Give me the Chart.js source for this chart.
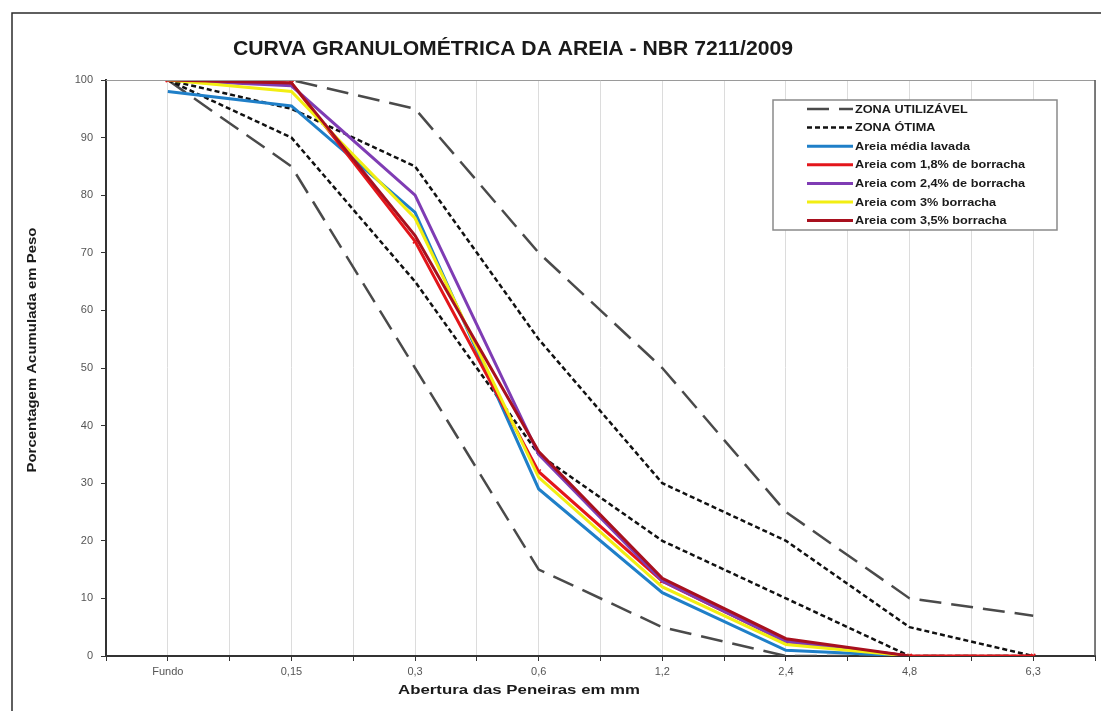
<!DOCTYPE html>
<html>
<head>
<meta charset="utf-8">
<script src="https://cdn.jsdelivr.net/npm/chart.js@4"></script>
<style>
    html, body { margin: 0; padding: 0; background: #fff; }
    #myChart { display: block; }
</style>
</head>
<body>
<canvas id="myChart" width="1101" height="711"></canvas>
<script>
// =============================================
// Curva granulométrica - NBR 7211/2009
// =============================================

const chartTitle = "CURVA GRANULOMÉTRICA DA AREIA - NBR 7211/2009";
const xTitle = "Abertura das Peneiras em mm";
const yTitle = "Porcentagem Acumulada em Peso";

// peneiras (mm)
const categories = ["Fundo", "0,15", "0,3", "0,6", "1,2", "2,4", "4,8", "6,3"];

// limites da norma
const utilInferior = [100, 85, 50, 15, 5, 0, 0, 0];
const utilSuperior = [100, 100, 95, 70, 50, 25, 10, 7];
const otimaInferior = [100, 90, 65, 35, 20, 10, 0, 0];
const otimaSuperior = [100, 95, 85, 55, 30, 20, 5, 0];

// ensaios
const areiaLavada = [98, 95.5, 77, 29, 11, 1, 0, null];
const areia18 = [100, 99.5, 72, 32, 13, 2.5, 0, 0];
const areia24 = [100, 99, 80, 35, 13, 2.5, 0, null];
const areia3 = [100, 98, 76, 31, 12, 2, 0, null];
const areia35 = [100, 99.5, 73, 35.5, 13.5, 3, 0, null];

const yTicks = [0, 10, 20, 30, 40, 50, 60, 70, 80, 90, 100];

// each sieve sits on an odd slot, the even slots are the minor gridlines
function toPoints(values) {
    return values.map((v, i) => ({ x: 2 * i + 1, y: v }));
}

const FONT = "'Liberation Sans', Arial, sans-serif";
const LONG_DASH = [22, 10];
const SHORT_DASH = [5, 3];

function limitSet(label, values, color, dash) {
    return {
        label: label,
        data: toPoints(values),
        borderColor: color,
        borderWidth: 2.5,
        borderDash: dash,
        pointRadius: 0,
        fill: false,
        tension: 0,
    };
}

function sampleSet(label, values, color, marker) {
    return {
        label: label,
        data: toPoints(values),
        borderColor: color,
        backgroundColor: color,
        borderWidth: 3,
        pointRadius: marker ? 3 : 0,
        pointStyle: "crossRot",
        pointBorderWidth: 1.5,
        fill: false,
        tension: 0,
    };
}

const datasets = [
    limitSet("ZONA UTILIZÁVEL", utilInferior, "#4a4a4a", LONG_DASH),
    limitSet("ZONA UTILIZÁVEL", utilSuperior, "#4a4a4a", LONG_DASH),
    limitSet("ZONA ÓTIMA", otimaInferior, "#111111", SHORT_DASH),
    limitSet("ZONA ÓTIMA", otimaSuperior, "#111111", SHORT_DASH),
    sampleSet("Areia média lavada", areiaLavada, "#1f7fc8"),
    sampleSet("Areia com 1,8% de borracha", areia18, "#e3161b", true),
    sampleSet("Areia com 2,4% de borracha", areia24, "#7f3cb4"),
    sampleSet("Areia com 3% borracha", areia3, "#f2ee12"),
    sampleSet("Areia com 3,5% borracha", areia35, "#a8101e"),
];
// excel style: later series are painted on top
datasets.forEach((ds, i) => (ds.order = datasets.length - i));

function drawScaledText(ctx, text, cx, cy, width, font, rotate) {
    ctx.save();
    ctx.font = font;
    const w = ctx.measureText(text).width;
    ctx.translate(cx, cy);
    if (rotate) ctx.rotate(-Math.PI / 2);
    ctx.scale(width / w, 1);
    ctx.textAlign = "center";
    ctx.textBaseline = "middle";
    ctx.fillStyle = "#1a1a1a";
    ctx.fillText(text, 0, 0);
    ctx.restore();
}

const framePlugin = {
    id: "frame",
    beforeDraw(chart) {
        const ctx = chart.ctx;
        ctx.save();
        ctx.fillStyle = "#fff";
        ctx.fillRect(0, 0, chart.width, chart.height);
        ctx.restore();
    },
    afterDraw(chart) {
        const ctx = chart.ctx;
        const area = chart.chartArea;
        ctx.save();

        // outer frame
        ctx.strokeStyle = "#2b2b2b";
        ctx.lineWidth = 1.5;
        ctx.beginPath();
        ctx.moveTo(12, 711);
        ctx.lineTo(12, 13);
        ctx.lineTo(1101, 13);
        ctx.stroke();

        // plot border top / right
        ctx.lineWidth = 1;
        ctx.strokeStyle = "#9a9a9a";
        ctx.beginPath();
        ctx.moveTo(area.left, area.top + 0.5);
        ctx.lineTo(area.right, area.top + 0.5);
        ctx.stroke();
        ctx.strokeStyle = "#555";
        ctx.lineWidth = 1.5;
        ctx.beginPath();
        ctx.moveTo(area.right, area.top);
        ctx.lineTo(area.right, area.bottom);
        ctx.stroke();

        // titles
        drawScaledText(ctx, chartTitle, 513, 49, 560, "bold 21px " + FONT);
        drawScaledText(ctx, xTitle, 519, 690, 242, "bold 13px " + FONT);
        drawScaledText(ctx, yTitle, 32, 350, 245, "bold 13px " + FONT, true);

        // legend box
        const box = { x: 773, y: 100, w: 284, h: 130 };
        ctx.fillStyle = "#fff";
        ctx.fillRect(box.x, box.y, box.w, box.h);
        ctx.strokeStyle = "#8a8a8a";
        ctx.lineWidth = 1.5;
        ctx.strokeRect(box.x, box.y, box.w, box.h);

        const seen = new Set();
        const entries = [];
        chart.data.datasets.forEach((ds) => {
            if (seen.has(ds.label)) return;
            seen.add(ds.label);
            entries.push(ds);
        });

        ctx.font = "bold 11px " + FONT;
        const refW = ctx.measureText("Areia com 1,8% de borracha").width;
        const sx = 170 / refW;
        entries.forEach((ds, i) => {
            const y = 109 + i * 18.6;
            ctx.save();
            ctx.strokeStyle = ds.borderColor;
            ctx.lineWidth = ds.borderWidth;
            ctx.setLineDash(ds.borderDash || []);
            ctx.beginPath();
            ctx.moveTo(807, y);
            ctx.lineTo(853, y);
            ctx.stroke();
            ctx.restore();

            ctx.save();
            ctx.translate(855, y);
            ctx.scale(sx, 1);
            ctx.fillStyle = "#1a1a1a";
            ctx.textAlign = "left";
            ctx.textBaseline = "middle";
            ctx.fillText(ds.label, 0, 0.5);
            ctx.restore();
        });

        ctx.restore();
    },
};

const config = {
    type: "line",
    data: { datasets: datasets },
    options: {
        responsive: false,
        animation: false,
        devicePixelRatio: 1,
        layout: { padding: { left: 0, top: 80, right: 6, bottom: 0 } },
        plugins: {
            legend: { display: false },
            title: { display: false },
            tooltip: { enabled: false },
        },
        scales: {
            x: {
                type: "linear",
                min: 0,
                max: 2 * categories.length,
                afterFit: (scale) => (scale.height = 55),
                afterBuildTicks: (scale) => {
                    const t = [];
                    for (let v = 0; v <= 2 * categories.length; v++) t.push({ value: v });
                    scale.ticks = t;
                },
                ticks: {
                    autoSkip: false,
                    maxRotation: 0,
                    padding: 4,
                    color: "#555",
                    font: { family: FONT, size: 11 },
                    callback: (v) => (v % 2 === 1 ? categories[(v - 1) / 2] : ""),
                },
                grid: {
                    color: "#dcdcdc",
                    lineWidth: 1,
                    tickColor: "#333",
                    tickLength: 5,
                },
                border: { color: "#333", width: 2 },
            },
            y: {
                min: 0,
                max: 100,
                afterFit: (scale) => (scale.width = 106),
                afterBuildTicks: (scale) => {
                    scale.ticks = yTicks.map((v) => ({ value: v }));
                },
                ticks: {
                    padding: 8,
                    color: "#555",
                    font: { family: FONT, size: 11 },
                },
                grid: {
                    drawOnChartArea: false,
                    tickColor: "#333",
                    tickLength: 5,
                },
                border: { color: "#333", width: 2 },
            },
        },
    },
    plugins: [framePlugin],
};

new Chart(document.getElementById("myChart"), config);
</script>
</body>
</html>
